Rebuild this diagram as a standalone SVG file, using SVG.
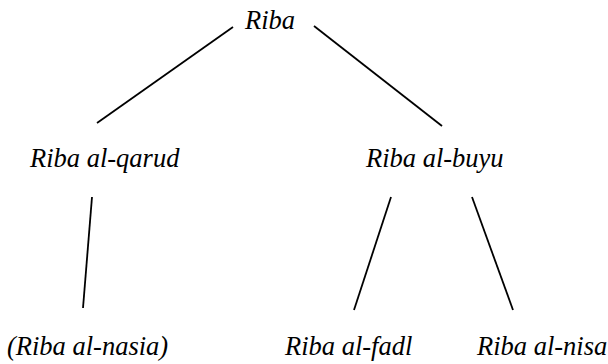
<svg xmlns="http://www.w3.org/2000/svg" width="608" height="364" viewBox="0 0 608 364">
<style>
text{font-family:"Liberation Serif","Times New Roman",serif;font-style:italic;font-size:26.5px;fill:#000}
.c line{stroke:#000;stroke-width:1.8;stroke-linecap:butt}
</style>
<rect width="608" height="364" fill="#fff"/>
<g id="connectors" class="c">
<line x1="233" y1="27" x2="97" y2="123"/>
<line x1="314" y1="26" x2="442" y2="126"/>
<line x1="92" y1="197" x2="83" y2="308"/>
<line x1="391" y1="197" x2="354" y2="310"/>
<line x1="472" y1="197" x2="513" y2="310"/>
</g>
<g id="riba"><text x="245" y="29">Riba</text></g>
<g id="riba-al-qarud"><text x="30" y="167">Riba al-qarud</text></g>
<g id="riba-al-buyu"><text x="366" y="167">Riba al-buyu</text></g>
<g id="riba-al-nasia"><text x="7" y="355">(Riba al-nasia)</text></g>
<g id="riba-al-fadl"><text x="285" y="355">Riba al-fadl</text></g>
<g id="riba-al-nisa"><text x="477" y="355">Riba al-nisa</text></g>
</svg>
